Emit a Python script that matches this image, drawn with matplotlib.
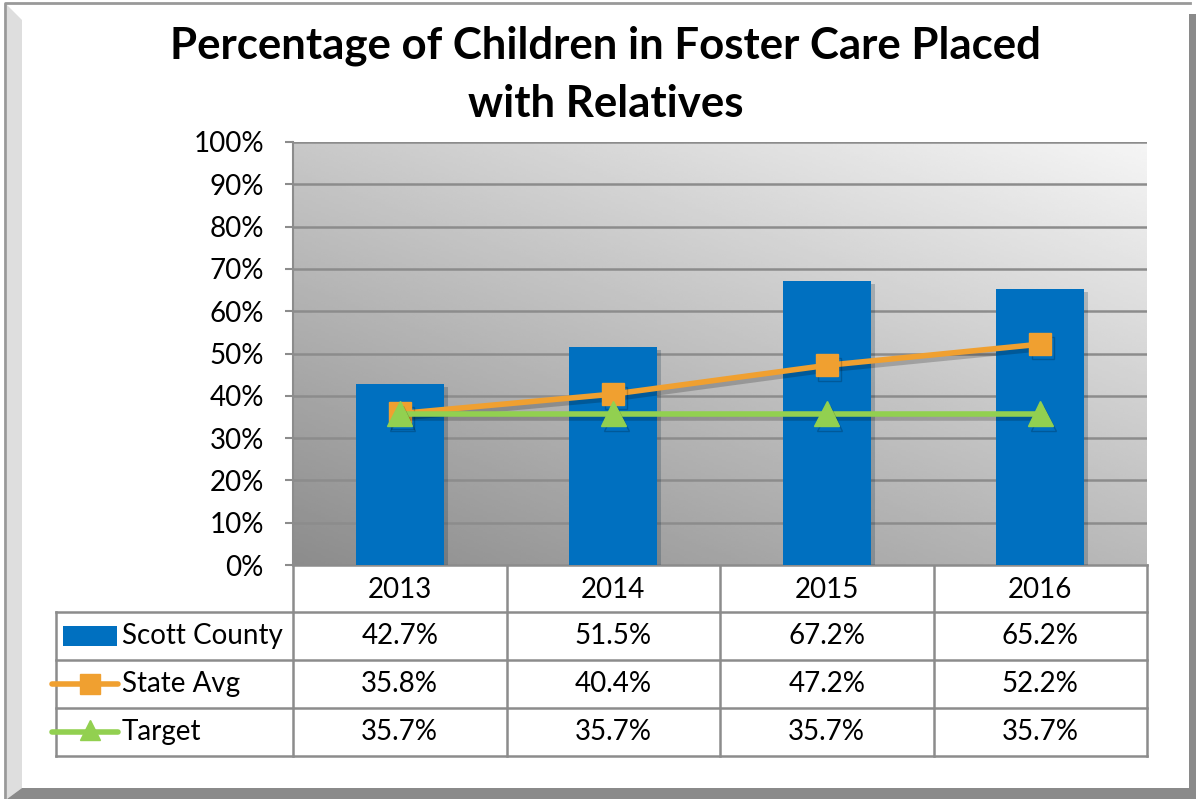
import matplotlib
matplotlib.use("Agg")
import matplotlib.pyplot as plt
import matplotlib.patheffects as pe
from matplotlib.patches import Rectangle, Polygon
from matplotlib.lines import Line2D
import numpy as np

plt.rcParams["font.family"] = ["Lato", "DejaVu Sans"]

# ---- data ----
years = ["2013", "2014", "2015", "2016"]
scott_county = [42.7, 51.5, 67.2, 65.2]
state_avg = [35.8, 40.4, 47.2, 52.2]
target = [35.7, 35.7, 35.7, 35.7]
series_names = ["Scott County", "State Avg", "Target"]
y_ticks = [0, 10, 20, 30, 40, 50, 60, 70, 80, 90, 100]

BLUE = "#0070C0"
ORANGE = "#F0A030"
GREEN = "#92D050"
GRID = "#8c8c8c"
FS = 20

W, H = 1196, 799
fig = plt.figure(figsize=(W / 100, H / 100), dpi=100)

# overlay in pixel coordinates for frame, title and data table
ov = fig.add_axes([0, 0, 1, 1])
ov.set_xlim(0, W)
ov.set_ylim(H, 0)
ov.axis("off")

# bevelled frame
ov.add_patch(Polygon([(7, 5), (22, 20), (22, 788), (7, 799)], closed=True,
                     fc="#dedede", ec="none"))
ov.add_patch(Polygon([(7, 799), (22, 788), (1190, 788), (1196, 799)], closed=True,
                     fc="#8a8a8a", ec="none"))
ov.add_patch(Rectangle((1189, 14), 7, 785, fc="#8a8a8a", ec="none"))
ov.plot([5, 5, 1190], [799, 3, 3], color="#999999", lw=2)

ov.text(605, 46, "Percentage of Children in Foster Care Placed", ha="center",
        va="center", fontsize=31.5, fontweight="bold")
ov.text(606, 104, "with Relatives", ha="center", va="center",
        fontsize=31.5, fontweight="bold")

# ---- chart ----
x0, x1, ytop, ybot = 293, 1147, 142, 565
ax = fig.add_axes([x0 / W, 1 - ybot / H, (x1 - x0) / W, (ybot - ytop) / H])
ax.set_xlim(-0.5, len(years) - 0.5)
ax.set_ylim(0, 100)

# diagonal gray gradient background
gx, gy = np.meshgrid(np.linspace(0, 1, 200), np.linspace(0, 1, 200))
shade = (140 + 45 * gx + 60 * gy) / 255
ax.imshow(shade, cmap="gray", vmin=0, vmax=1, origin="lower",
          extent=[-0.5, len(years) - 0.5, 0, 100], aspect="auto", zorder=0)

ax.set_yticks(y_ticks)
ax.set_yticklabels([f"{t}%" for t in y_ticks], fontsize=FS)
ax.yaxis.grid(True, color=GRID, lw=1.8, zorder=1)
ax.set_xticks([])
ax.tick_params(axis="y", length=6, color=GRID, width=1.5, pad=15)
for s in ["top", "right", "bottom"]:
    ax.spines[s].set_visible(False)
ax.spines["left"].set_color(GRID)
ax.spines["left"].set_linewidth(1.5)

xs = np.arange(len(years))
shadow = [pe.SimplePatchShadow(offset=(3, -2), alpha=0.22), pe.Normal()]
ax.bar(xs, scott_county, width=0.41, color=BLUE, zorder=2, path_effects=shadow)

lshadow = [pe.SimpleLineShadow(offset=(2, -3), alpha=0.2), pe.Normal()]
ax.plot(xs, state_avg, color=ORANGE, lw=4, marker="s", ms=16, zorder=3,
        path_effects=lshadow)
ax.plot(xs, target, color=GREEN, lw=4, marker="^", ms=18, zorder=4,
        path_effects=lshadow)

# ---- data table ----
col_w = (x1 - x0) / len(years)
row_edges = [565, 612, 660, 708, 756]
leg_x = 56
lc = dict(color=GRID, lw=1.8)

ov.plot([x0, x1], [row_edges[0], row_edges[0]], **lc)
for i in range(len(years) + 1):
    xx = x0 + i * col_w
    ov.plot([xx, xx], [row_edges[0], row_edges[-1]], **lc)
for r in row_edges[1:]:
    ov.plot([leg_x, x1], [r, r], **lc)
ov.plot([leg_x, leg_x], [row_edges[1], row_edges[-1]], **lc)

for i, yr in enumerate(years):
    ov.text(x0 + (i + 0.5) * col_w, (row_edges[0] + row_edges[1]) / 2 + 1, yr,
            ha="center", va="center", fontsize=FS)

rows = [scott_county, state_avg, target]
for r, (name, vals) in enumerate(zip(series_names, rows)):
    yc = (row_edges[r + 1] + row_edges[r + 2]) / 2
    for i, v in enumerate(vals):
        ov.text(x0 + (i + 0.5) * col_w, yc, f"{v:.1f}%", ha="center",
                va="center", fontsize=FS)
    ov.text(122, yc, name, ha="left", va="center", fontsize=FS)

# legend keys
y1 = (row_edges[1] + row_edges[2]) / 2
ov.add_patch(Rectangle((63, y1 - 10), 54, 20, fc=BLUE, ec="none"))
y2 = (row_edges[2] + row_edges[3]) / 2
ov.add_line(Line2D([52, 118], [y2, y2], color=ORANGE, lw=4,
                   solid_capstyle="round"))
ov.add_line(Line2D([90], [y2], color=ORANGE, marker="s", ms=14, lw=0))
y3 = (row_edges[3] + row_edges[4]) / 2
ov.add_line(Line2D([52, 118], [y3, y3], color=GREEN, lw=4,
                   solid_capstyle="round"))
ov.add_line(Line2D([90], [y3 - 2], color=GREEN, marker="^", ms=15, lw=0))

fig.savefig("out.png", dpi=100)
